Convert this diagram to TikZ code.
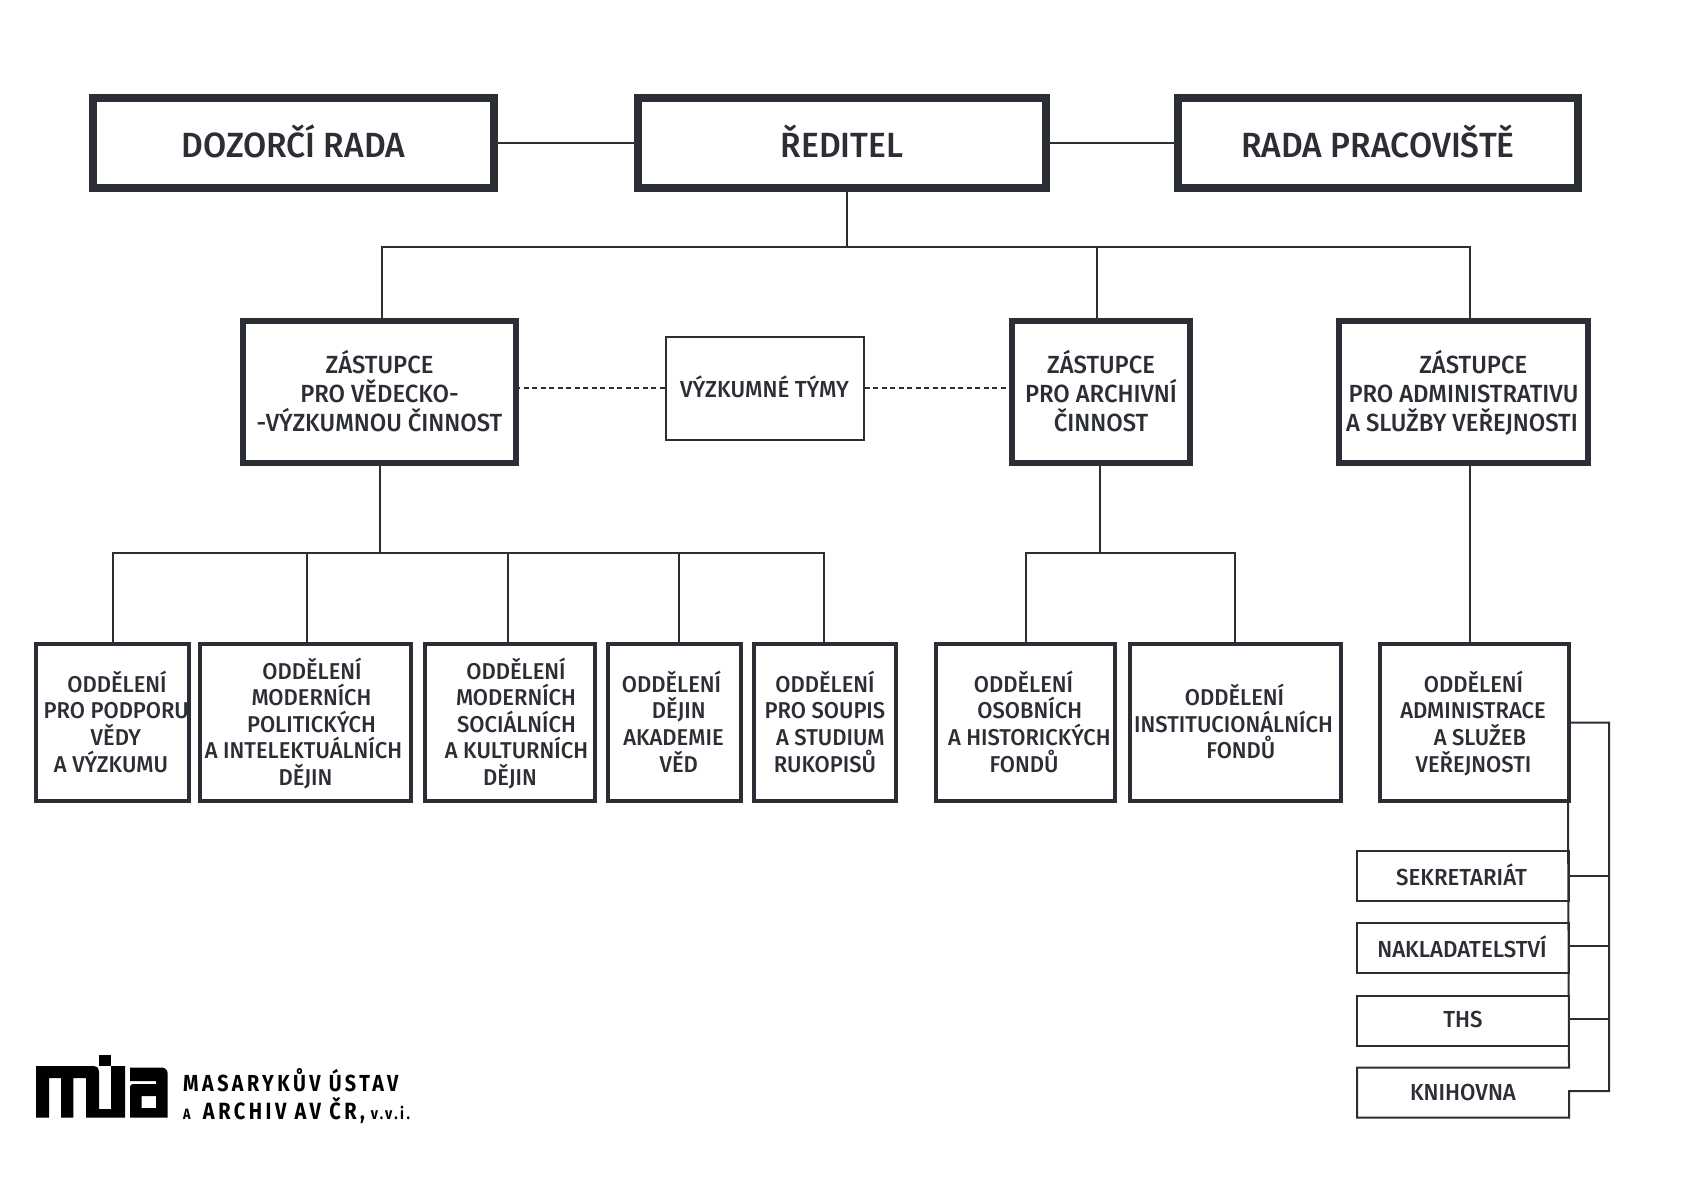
\documentclass[tikz,border=0pt]{standalone}
\usepackage{fontspec}
\setmainfont[FakeStretch=0.96]{Fira Sans Medium}
\newfontfamily\logofont[FakeStretch=0.85,LetterSpace=15]{Fira Sans Bold}
\definecolor{ink}{HTML}{2B2E35}
\newcommand{\nudge}[2]{\mbox{\kern#1pt #2\kern-#1pt}}
\tikzset{
 bigbox/.style={draw=ink,line width=8pt,text=ink,align=center,font=\fontsize{35}{38}\selectfont,inner sep=0pt,text depth=4pt},
 midbox/.style={draw=ink,line width=6pt,text=ink,align=center,font=\fontsize{24.8}{29}\selectfont,inner sep=0pt,text depth=2pt},
 lowbox/.style={draw=ink,line width=4pt,text=ink,align=center,font=\fontsize{22.9}{26.6}\selectfont,inner sep=0pt,text depth=2pt},
 thinbox/.style={draw=ink,line width=2pt,text=ink,align=center,font=\fontsize{23.2}{26.6}\selectfont,inner sep=0pt,text depth=2pt},
 conn/.style={draw=ink,line width=2pt},
}
\begin{document}
\begin{tikzpicture}[x=1pt,y=-1pt]
\useasboundingbox (0,0) rectangle (1684,1191);

\node[bigbox,minimum width=401pt,minimum height=90pt] (dozorci) at (293.5,143.3) {DOZORČÍ RADA};
\node[bigbox,minimum width=408pt,minimum height=90pt] (reditel) at (842,143.3) {ŘEDITEL};
\node[bigbox,minimum width=400pt,minimum height=90pt] (rada) at (1378,143.3) {RADA PRACOVIŠTĚ};

\node[midbox,minimum width=273pt,minimum height=142pt] (zvv) at (379.5,392) {ZÁSTUPCE\\PRO VĚDECKO-\\-VÝZKUMNOU ČINNOST};
\node[thinbox,minimum width=198pt,minimum height=103pt] (tymy) at (764.5,388) {VÝZKUMNÉ TÝMY};
\node[midbox,minimum width=178pt,minimum height=142pt] (zarch) at (1101,392) {ZÁSTUPCE\\PRO ARCHIVNÍ\\ČINNOST};
\node[midbox,minimum width=249pt,minimum height=142pt] (zadm) at (1463.5,392) {\nudge{9.7}{ZÁSTUPCE}\\PRO ADMINISTRATIVU\\\nudge{-1.5}{A SLUŽBY VEŘEJNOSTI}};

\node[lowbox,minimum width=153pt,minimum height=157pt] (opodp) at (112,722.5) {\nudge{5}{ODDĚLENÍ}\\\nudge{4.3}{PRO PODPORU}\\\nudge{3.8}{VĚDY}\\\nudge{-1}{A VÝZKUMU}};
\node[lowbox,minimum width=211pt,minimum height=157pt] (opol) at (305.5,722.5) {\nudge{6.5}{ODDĚLENÍ}\\\nudge{6}{MODERNÍCH}\\\nudge{6}{POLITICKÝCH}\\\nudge{-2}{A INTELEKTUÁLNÍCH}\\DĚJIN};
\node[lowbox,minimum width=170pt,minimum height=157pt] (osoc) at (510,722.5) {\nudge{6}{ODDĚLENÍ}\\\nudge{6}{MODERNÍCH}\\\nudge{6.5}{SOCIÁLNÍCH}\\\nudge{6.5}{A KULTURNÍCH}\\DĚJIN};
\node[lowbox,minimum width=133pt,minimum height=157pt] (oaka) at (674.5,722.5) {\nudge{-3}{ODDĚLENÍ}\\\nudge{4.3}{DĚJIN}\\\nudge{-1}{AKADEMIE}\\\nudge{4.3}{VĚD}};
\node[lowbox,minimum width=142pt,minimum height=157pt] (orkp) at (825,722.5) {ODDĚLENÍ\\PRO SOUPIS\\\nudge{5.4}{A STUDIUM}\\RUKOPISŮ};
\node[lowbox,minimum width=179pt,minimum height=157pt] (ohis) at (1025.5,722.5) {\nudge{-2}{ODDĚLENÍ}\\\nudge{4.3}{OSOBNÍCH}\\\nudge{3.8}{A HISTORICKÝCH}\\\nudge{-1.5}{FONDŮ}};
\node[lowbox,minimum width=211pt,minimum height=157pt] (oins) at (1235.5,722.5) {\nudge{-1}{ODDĚLENÍ}\\\nudge{-2}{INSTITUCIONÁLNÍCH}\\\nudge{5.4}{FONDŮ}};
\node[lowbox,minimum width=189pt,minimum height=157pt] (oadm) at (1474.5,722.5) {\nudge{-1}{ODDĚLENÍ}\\\nudge{-1.5}{ADMINISTRACE}\\\nudge{5.4}{A SLUŽEB}\\\nudge{-1}{VEŘEJNOSTI}};

\node[thinbox,minimum width=212pt,minimum height=50pt] (sekr) at (1463,875.5) {\nudge{-1.5}{SEKRETARIÁT}};
\node[thinbox,minimum width=212pt,minimum height=50pt] (nakl) at (1463,948) {\nudge{-1}{NAKLADATELSTVÍ}};
\node[thinbox,minimum width=212pt,minimum height=50pt] (ths) at (1463,1020.5) {THS};
\node[text=ink,font=\fontsize{23.2}{26.6}\selectfont,minimum width=212pt,minimum height=50pt,inner sep=0pt,outer sep=0pt] (knih) at (1463,1092.5) {KNIHOVNA};

% top row
\draw[conn] (dozorci) -- (reditel);
\draw[conn] (reditel) -- (rada);
\coordinate (top1) at (847,247);
\draw[conn] ([xshift=5pt]reditel.south) -- (top1);
\draw[conn] ([xshift=2.5pt]zvv.north) |- (top1);
\draw[conn] ([xshift=-4pt]zarch.north) |- (top1);
\draw[conn] ([xshift=6.5pt]zadm.north) |- (top1);

% dashed
\draw[conn,dash pattern=on 5pt off 3.5pt] (tymy.west) -- (tymy.west -| zvv.east);
\draw[conn,dash pattern=on 5pt off 3.5pt] (tymy.east) -- (tymy.east -| zarch.west);

% second level
\coordinate (bus1) at (379.5,553);
\draw[conn] (zvv.south) -- (bus1);
\draw[conn] ([xshift=1pt]opodp.north) |- (bus1);
\draw[conn] ([xshift=1pt]opol.north) |- (bus1);
\draw[conn] ([xshift=-2pt]osoc.north) |- (bus1);
\draw[conn] ([xshift=4pt]oaka.north) |- (bus1);
\draw[conn] ([xshift=-1pt]orkp.north) |- (bus1);
\coordinate (bus2) at (1100,553);
\draw[conn] ([xshift=-1pt]zarch.south) -- (bus2);
\draw[conn] (ohis.north) |- (bus2);
\draw[conn] ([xshift=-1pt]oins.north) |- (bus2);
\draw[conn] ([xshift=6pt]zadm.south) -- ([xshift=-5pt]oadm.north);

% admin
\coordinate (bus3) at (1609,1091);
\draw[conn] (oadm.east) -| (bus3) -- (bus3 -| knih.east) -- (knih.south east) -- (knih.south west) -- (knih.north west) -- (knih.north east) -- ([xshift=-3pt]oadm.south east);
\draw[conn] (sekr.east) -- (sekr.east -| bus3);
\draw[conn] ([yshift=2pt]nakl.east) -- ([yshift=2pt]nakl.east -| bus3);
\draw[conn] ([yshift=2pt]ths.east) -- ([yshift=2pt]ths.east -| bus3);

% logo
\fill[black] (36,1066) -- (92,1066) [rounded corners=5pt] -- (99,1066) [sharp corners] -- (99,1109) -- (111,1109) -- (111,1066) -- (125,1066) -- (125,1117.5)
 -- (86,1117.5) -- (86,1078) -- (73.3,1078) -- (73.3,1117.5) -- (61,1117.5) -- (61,1078) -- (49,1078) -- (49,1117.5) -- (36,1117.5) -- cycle;
\fill[black] (99,1055) rectangle (111,1066);
\fill[black,even odd rule] (130,1067.5) [rounded corners=6pt] -- (167.7,1067.5) [sharp corners] -- (167.7,1117.5) -- (130,1117.5) [rounded corners=3pt] -- (130,1084) [sharp corners] -- (156,1084) -- (156,1081) -- (130,1081) -- cycle
 (141.7,1096) rectangle (156,1108);
\node[anchor=west,text=black,font=\logofont\fontsize{23.2}{26}\selectfont,inner sep=0pt] (logoa) at (183,1080) {MASARYKŮV ÚSTAV};
\node[anchor=west,text=black,font=\logofont\fontsize{23.5}{26}\selectfont,inner sep=0pt] (logob) at (183,1110) {{\fontsize{15}{18}\selectfont A}\kern4pt{} ARCHIV AV ČR,{\fontsize{16.5}{18}\selectfont\ v.v.i.}};
\end{tikzpicture}
\end{document}
